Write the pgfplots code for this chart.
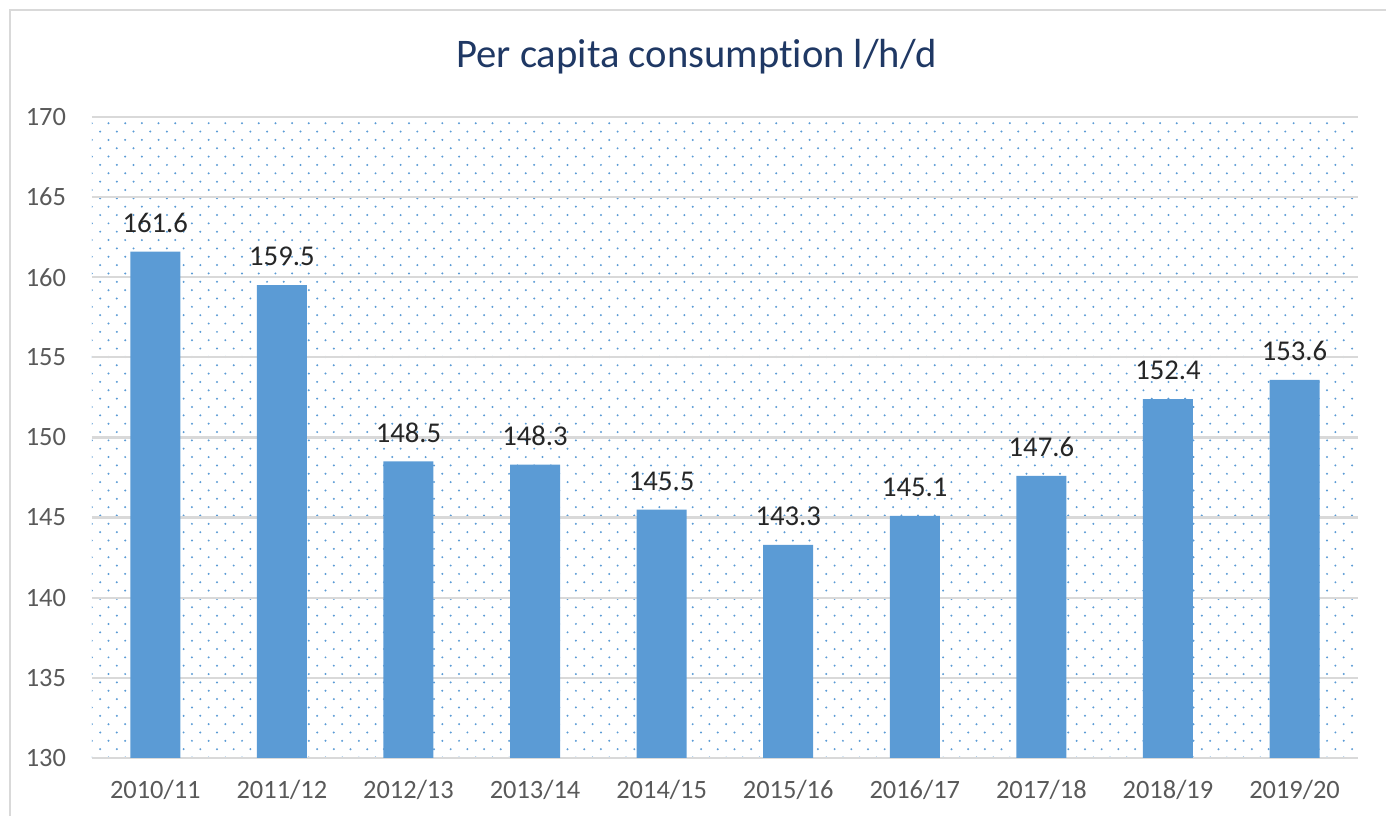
\documentclass[border=0pt]{standalone}
\usepackage{fontspec}
\setmainfont{Carlito}[Ligatures=NoCommon]
\usepackage{pgfplots}
\pgfplotsset{compat=1.18}
\usetikzlibrary{patterns}
\definecolor{barblue}{HTML}{5B9BD5}
\definecolor{dotblue}{HTML}{5B9BD5}
\definecolor{titleblue}{HTML}{1F3864}
\definecolor{gridgray}{HTML}{D9D9D9}
\definecolor{ticktext}{HTML}{595959}
\definecolor{labeltext}{HTML}{262626}
% staggered dots like the Excel 5% pattern
\pgfdeclarepatternformonly{sparse dots}{\pgfqpoint{-1pt}{-1pt}}{\pgfqpoint{5pt}{5pt}}{\pgfqpoint{6pt}{6pt}}{%
  \pgfpathcircle{\pgfqpoint{0pt}{0pt}}{0.4pt}%
  \pgfpathcircle{\pgfqpoint{3pt}{3pt}}{0.4pt}%
  \pgfusepath{fill}%
}
\begin{document}
\begin{tikzpicture}
% page 1391x816 px, about 2.782 px per pt
\useasboundingbox (0pt,0pt) rectangle (500pt,293.3pt);
\draw[gridgray, line width=0.7pt] (3.6pt,0pt) -- (3.6pt,289.7pt) -- (498.2pt,289.7pt);
\node[font=\fontsize{14.6}{17}\selectfont, text=titleblue] at (250.5pt,272.8pt) {Per capita consumption l/h/d};
\begin{axis}[
    at={(33.07pt,20.85pt)}, anchor=south west,
    scale only axis, width=455pt, height=230.4pt,
    xmin=-0.5, xmax=9.5, ymin=130, ymax=170,
    ytick={130,135,...,170},
    xtick=data,
    xticklabels={2010/11,2011/12,2012/13,2013/14,2014/15,2015/16,2016/17,2017/18,2018/19,2019/20},
    axis line style={draw=none},
    major tick length=0pt,
    ymajorgrids, grid style={gridgray, line width=0.8pt},
    axis background/.style={pattern=sparse dots, pattern color=dotblue},
    /pgf/number format/assume math mode=true,
    tick label style={font=\fontsize{9.5}{11}\selectfont, text=ticktext},
    xticklabel style={yshift=-4.5pt},
    yticklabel style={xshift=-5.8pt},
    ybar, bar width=0.395,
    nodes near coords, point meta=explicit symbolic,
    every node near coord/.append style={font=\fontsize{10.3}{12}\selectfont, text=labeltext, yshift=3.3pt},
]
\addplot[draw=none, fill=barblue] coordinates {
    (0,161.6) [161.6]
    (1,159.5) [159.5]
    (2,148.5) [148.5]
    (3,148.3) [148.3]
    (4,145.5) [145.5]
    (5,143.3) [143.3]
    (6,145.1) [145.1]
    (7,147.6) [147.6]
    (8,152.4) [152.4]
    (9,153.6) [153.6]
};
\end{axis}
\end{tikzpicture}
\end{document}
